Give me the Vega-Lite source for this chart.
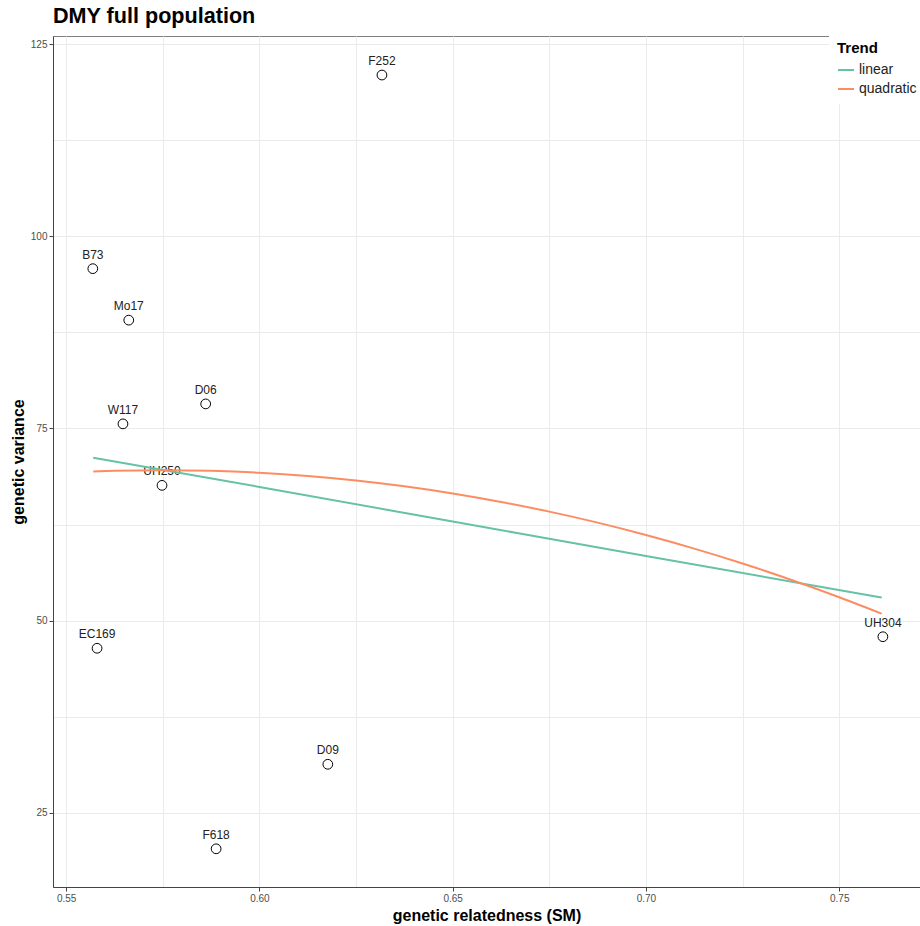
{
  "$schema": "https://vega.github.io/schema/vega-lite/v6.json",
  "width": 867,
  "height": 851,
  "autosize": {"type": "none"},
  "padding": {"left": 53, "top": 36, "right": 0, "bottom": 39},
  "background": "white",
  "title": {"text": "DMY full population", "anchor": "start", "frame": "group", "fontSize": 21.6, "fontWeight": "bold", "font": "Liberation Sans", "color": "#000000", "offset": 5},
  "config": {
    "view": {"stroke": "#7f7f7f", "strokeWidth": 1},
    "axis": {"labelFont": "Liberation Sans", "titleFont": "Liberation Sans", "labelColor": "#4d4d4d", "labelFontSize": 10, "titleFontSize": 16, "titleFontWeight": "bold", "titleColor": "#000000", "gridColor": "#ebebeb", "gridWidth": 1, "domainColor": "#444444", "tickColor": "#444444", "tickSize": 4},
    "legend": {"labelFont": "Liberation Sans", "titleFont": "Liberation Sans"}
  },
  "datasets": {
    "pts": [
      {"line": "F252", "relatedness": 0.6317, "variance": 121.0},
      {"line": "B73", "relatedness": 0.5569, "variance": 95.8},
      {"line": "Mo17", "relatedness": 0.5662, "variance": 89.1},
      {"line": "D06", "relatedness": 0.5861, "variance": 78.2},
      {"line": "W117", "relatedness": 0.5647, "variance": 75.6},
      {"line": "UH250", "relatedness": 0.5748, "variance": 67.6},
      {"line": "EC169", "relatedness": 0.5580, "variance": 46.4},
      {"line": "UH304", "relatedness": 0.7613, "variance": 47.9},
      {"line": "D09", "relatedness": 0.6177, "variance": 31.3},
      {"line": "F618", "relatedness": 0.5888, "variance": 20.3}
    ],
    "trend": [
      {"Trend": "linear", "relatedness": 0.557, "variance": 71.2},
      {"Trend": "linear", "relatedness": 0.600, "variance": 67.4},
      {"Trend": "linear", "relatedness": 0.650, "variance": 62.9},
      {"Trend": "linear", "relatedness": 0.700, "variance": 58.4},
      {"Trend": "linear", "relatedness": 0.761, "variance": 53.0},
      {"Trend": "quadratic", "relatedness": 0.557, "variance": 69.40},
      {"Trend": "quadratic", "relatedness": 0.5625, "variance": 69.49},
      {"Trend": "quadratic", "relatedness": 0.575, "variance": 69.58},
      {"Trend": "quadratic", "relatedness": 0.5875, "variance": 69.49},
      {"Trend": "quadratic", "relatedness": 0.600, "variance": 69.24},
      {"Trend": "quadratic", "relatedness": 0.6125, "variance": 68.82},
      {"Trend": "quadratic", "relatedness": 0.625, "variance": 68.23},
      {"Trend": "quadratic", "relatedness": 0.6375, "variance": 67.47},
      {"Trend": "quadratic", "relatedness": 0.650, "variance": 66.54},
      {"Trend": "quadratic", "relatedness": 0.6625, "variance": 65.44},
      {"Trend": "quadratic", "relatedness": 0.675, "variance": 64.18},
      {"Trend": "quadratic", "relatedness": 0.6875, "variance": 62.75},
      {"Trend": "quadratic", "relatedness": 0.700, "variance": 61.14},
      {"Trend": "quadratic", "relatedness": 0.7125, "variance": 59.37},
      {"Trend": "quadratic", "relatedness": 0.725, "variance": 57.43},
      {"Trend": "quadratic", "relatedness": 0.7375, "variance": 55.32},
      {"Trend": "quadratic", "relatedness": 0.750, "variance": 53.04},
      {"Trend": "quadratic", "relatedness": 0.761, "variance": 50.90}
    ]
  },
  "encoding": {
    "x": {
      "field": "relatedness", "type": "quantitative",
      "scale": {"domain": [0.5466, 0.7709], "nice": false, "zero": false},
      "axis": {
        "title": "genetic relatedness (SM)",
        "values": [0.55, 0.575, 0.6, 0.625, 0.65, 0.675, 0.7, 0.725, 0.75],
        "labelExpr": "round(datum.value*1000) % 50 == 0 ? format(datum.value, '.2f') : ''",
        "tickOpacity": {"condition": {"test": "round(datum.value*1000) % 50 == 0", "value": 1}, "value": 0},
        "labelPadding": 2,
        "titlePadding": 4
      }
    },
    "y": {
      "field": "variance", "type": "quantitative",
      "scale": {"domain": [15.33, 126.08], "nice": false, "zero": false},
      "axis": {
        "title": "genetic variance",
        "values": [25, 37.5, 50, 62.5, 75, 87.5, 100, 112.5, 125],
        "labelExpr": "datum.value % 25 == 0 ? format(datum.value, 'd') : ''",
        "tickOpacity": {"condition": {"test": "datum.value % 25 == 0", "value": 1}, "value": 0},
        "labelPadding": 2,
        "titlePadding": 4
      }
    }
  },
  "layer": [
    {
      "data": {"name": "pts"},
      "mark": {"type": "circle", "size": 95, "fill": "white", "fillOpacity": 1, "stroke": "#000000", "strokeWidth": 1, "opacity": 1},
      "encoding": {}
    },
    {
      "data": {"name": "pts"},
      "mark": {"type": "text", "dy": -14, "font": "Liberation Sans", "fontSize": 12, "color": "#222222", "baseline": "middle", "align": "center"},
      "encoding": {"text": {"field": "line"}}
    },
    {
      "data": {"name": "trend"},
      "mark": {"type": "line", "strokeWidth": 2, "interpolate": "monotone"},
      "encoding": {
        "color": {
          "field": "Trend", "type": "nominal",
          "scale": {"domain": ["linear", "quadratic"], "range": ["#66c2a5", "#fc8d62"]},
          "legend": {
            "orient": "none", "legendX": 776, "legendY": -3,
            "fillColor": "white", "padding": 8,
            "titleFontSize": 15, "titleFontWeight": "bold", "titleColor": "#000000", "titlePadding": 5,
            "labelFontSize": 14, "labelColor": "#222222", "labelOffset": 4,
            "symbolType": "stroke", "symbolSize": 256, "symbolStrokeWidth": 2, "rowPadding": 3
          }
        }
      }
    }
  ]
}
